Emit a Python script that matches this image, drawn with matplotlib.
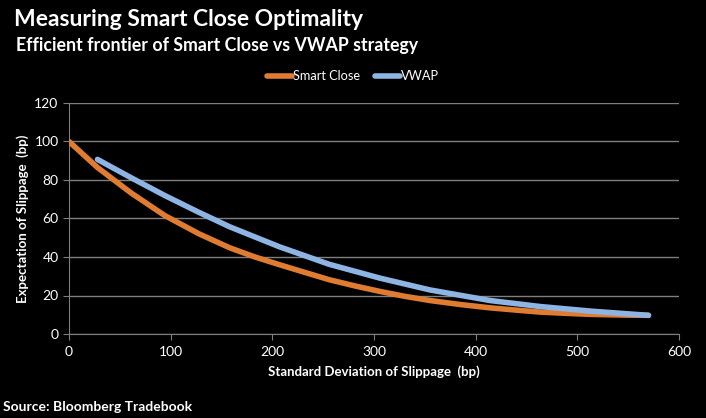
import matplotlib
matplotlib.use("Agg")
import matplotlib.pyplot as plt

# data (std dev of slippage, expected slippage), bp
smart_x = [0, 28, 61, 94, 128, 158, 183, 207, 232, 256, 281, 306, 330, 355,
           385, 414, 440, 463, 490, 513, 549, 570]
smart_y = [100, 86.5, 73.3, 61.6, 52, 44.8, 40, 36, 32, 28.2, 25, 22.1, 19.6, 17.4,
           15.3, 13.6, 12.4, 11.4, 10.7, 10.2, 9.8, 9.7]
vwap_x = [28, 61, 94, 127, 158, 207, 256, 306, 355, 414, 463, 513, 549, 570]
vwap_y = [90.7, 81.2, 72, 63.4, 55.7, 45.3, 36.2, 29, 22.9, 17.4, 14.3, 11.9, 10.5, 9.7]

x_ticks = [0, 100, 200, 300, 400, 500, 600]
y_ticks = [0, 20, 40, 60, 80, 100, 120]

orange = "#E07C32"
blue = "#8EB4E3"
grid_col = "#7F7F7F"

plt.rcParams["font.family"] = ["Lato", "DejaVu Sans"]

fig = plt.figure(figsize=(7.06, 4.18), dpi=100, facecolor="black")
ax = fig.add_axes([69 / 706, 1 - 334 / 418, 610 / 706, 231 / 418])
ax.set_facecolor("black")

ax.plot(smart_x, smart_y, color=orange, lw=4, solid_capstyle="round",
        solid_joinstyle="round", label="Smart Close", zorder=3)
ax.plot(vwap_x, vwap_y, color=blue, lw=4, solid_capstyle="round",
        solid_joinstyle="round", label="VWAP", zorder=4)

ax.set_xlim(0, 600)
ax.set_ylim(0, 120)
ax.set_xticks(x_ticks)
ax.set_yticks(y_ticks)
ax.grid(axis="y", color=grid_col, lw=1)
ax.set_axisbelow(True)
for side in ["top", "right"]:
    ax.spines[side].set_visible(False)
for side in ["left", "bottom"]:
    ax.spines[side].set_color(grid_col)
ax.tick_params(colors="white", labelsize=10, length=4, color=grid_col)
ax.tick_params(axis="x", pad=5)

ax.set_xlabel("Standard Deviation of Slippage  (bp)", color="white", fontsize=9.5,
              fontweight="bold", labelpad=5)
ax.set_ylabel("Expectation of Slippage  (bp)", color="white", fontsize=9.5,
              fontweight="bold", labelpad=4)

fig.text(14 / 706, 1 - 20 / 418, "Measuring Smart Close Optimality", color="white",
         fontsize=16.5, fontweight="bold", va="center")
fig.text(16 / 706, 1 - 46 / 418, "Efficient frontier of Smart Close vs VWAP strategy",
         color="white", fontsize=12.8, fontweight="bold", va="center")
fig.text(3 / 706, 1 - 407 / 418, "Source: Bloomberg Tradebook", color="white",
         fontsize=10, fontweight="bold", va="center")

leg = ax.legend(loc="center", bbox_to_anchor=(353 / 706, 1 - 76 / 418),
                bbox_transform=fig.transFigure, ncol=2, frameon=False,
                fontsize=9.2, handlelength=2.0, handletextpad=0.1, columnspacing=1.1)
for t in leg.get_texts():
    t.set_color("white")

fig.savefig("out.png", dpi=100, facecolor="black")
